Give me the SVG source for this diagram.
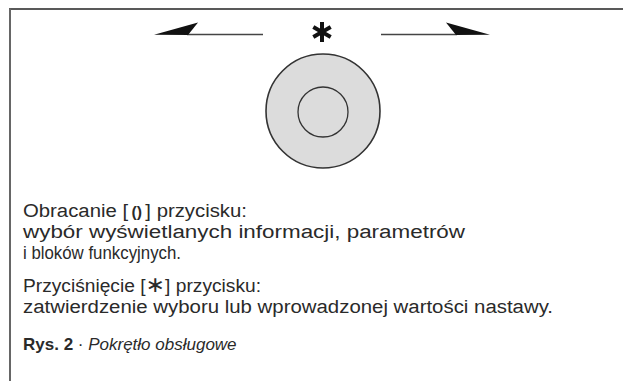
<svg xmlns="http://www.w3.org/2000/svg" width="623" height="381" viewBox="0 0 623 381">
<style>
.t{font-family:"Liberation Sans","DejaVu Sans",sans-serif;font-size:18px;fill:#2a2a2a}
.cap{font-size:17px}
.arrowline{stroke:#444;stroke-width:1.6;fill:none}
.head{fill:#111}
.knob{fill:#dcdcdc;stroke:#333}
</style>
<rect width="623" height="381" fill="#fff"/>
<g id="frame">
<line x1="9" y1="9" x2="623" y2="9" stroke="#222" stroke-width="1.6"/>
<line x1="10" y1="8.5" x2="10" y2="381" stroke="#666" stroke-width="2"/>
</g>
<g id="connectors">
<line class="arrowline" x1="187" y1="34.5" x2="263" y2="34.5"/>
<polygon class="head" points="154,34.8 198,22.5 188,35"/>
<line class="arrowline" x1="381" y1="34.5" x2="457" y2="34.5"/>
<polygon class="head" points="490,34.8 446,22.5 456,35"/>
</g>
<g id="push-symbol" stroke="#111" stroke-width="4" stroke-linecap="butt">
<line x1="322" y1="22" x2="322" y2="42"/>
<line x1="313.3" y1="27" x2="330.7" y2="37"/>
<line x1="313.3" y1="37" x2="330.7" y2="27"/>
</g>
<g id="knob">
<circle class="knob" cx="323" cy="111" r="57" stroke-width="1.6"/>
<circle class="knob" cx="323" cy="112" r="25" stroke-width="1.3"/>
</g>
<g id="text-rotate">
<text class="t" x="23" y="217" textLength="224" lengthAdjust="spacingAndGlyphs">Obracanie [<tspan font-weight="bold" font-size="14" dx="3">()</tspan><tspan dx="3">]</tspan> przycisku:</text>
<text class="t" x="23" y="238" textLength="442" lengthAdjust="spacingAndGlyphs">wybór wyświetlanych informacji, parametrów</text>
<text class="t" x="23" y="259" textLength="158" lengthAdjust="spacingAndGlyphs">i bloków funkcyjnych.</text>
</g>
<g id="text-push">
<text class="t" x="23" y="292" textLength="238" lengthAdjust="spacingAndGlyphs">Przyciśnięcie [<tspan font-family="DejaVu Sans" font-size="22">∗</tspan>] przycisku:</text>
<text class="t" x="23" y="313" textLength="530" lengthAdjust="spacingAndGlyphs">zatwierdzenie wyboru lub wprowadzonej wartości nastawy.</text>
</g>
<g id="caption">
<text class="t cap" x="23" y="350"><tspan font-weight="bold">Rys. 2</tspan> · <tspan font-style="italic">Pokrętło obsługowe</tspan></text>
</g>
</svg>
